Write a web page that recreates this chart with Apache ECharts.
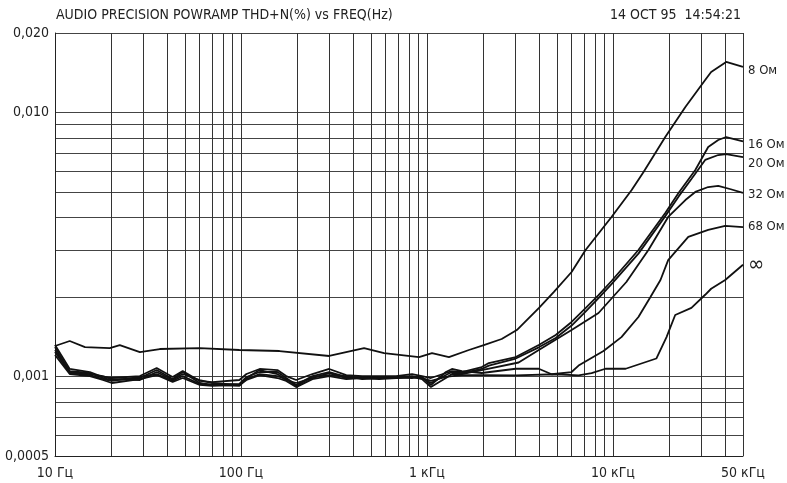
<!DOCTYPE html>
<html><head><meta charset="utf-8">
<script src="https://cdn.jsdelivr.net/npm/echarts/dist/echarts.min.js"></script>
<style>html,body{margin:0;padding:0;background:#fff}#c{width:787px;height:483px}</style>
</head><body><div id="c"></div>
<script>
const FONT = "'Liberation Sans Narrow','DejaVu Sans Condensed','Roboto Condensed',sans-serif";

const titleText = 'AUDIO PRECISION POWRAMP THD+N(%) vs FREQ(Hz)';
const dateText = '14 OCT 95  14:54:21';

const xTickValues = [10,20,30,40,50,60,70,80,90,100,200,300,400,500,600,700,800,900,1000,2000,3000,4000,5000,6000,7000,8000,9000,10000,20000,30000,40000,50000];
const xLabelValues = [10,100,1000,10000,50000];
const xLabelTexts = ['10 Гц','100 Гц','1 кГц','10 кГц','50 кГц'];

const yTickValues = [0.0005,0.0006,0.0007,0.0008,0.0009,0.001,0.002,0.003,0.004,0.005,0.006,0.007,0.008,0.009,0.01,0.02];
const yLabelValues = [0.0005,0.001,0.01,0.02];
const yLabelTexts = ['0,0005','0,001','0,010','0,020'];

// shared low-frequency sweep points (Hz)
const freqLow = [10,12,15.4,18.1,20.2,28.6,35.2,42.9,48.6,60,70,98,107,126,157,175,198,242,298,368,448,553,682,831,940,1050,1264,1362,1540,1970];

const ohm8Freq = [10,12,14.5,19.7,22.3,28.6,36.6,60,98,161,298,459,588,906,1064,1312,1680,2020,2520,3040,3990,4800,5990,7120,9820,12600,14600,19100,24500,31300,33700,40600,50000];
const ohm8 = [0.001305,0.001363,0.001293,0.001282,0.001316,0.001238,0.001271,0.001282,0.001260,0.001249,0.001196,0.001282,0.001227,0.001185,0.001227,0.001185,0.001260,0.001316,0.001387,0.001500,0.001817,0.002089,0.002488,0.003015,0.004021,0.005087,0.005952,0.008074,0.01049,0.01328,0.01424,0.01554,0.01487];

const ohm16Freq = freqLow.concat([2150,3000,3990,4920,5990,7120,8360,9820,13700,19100,22500,27700,32500,36800,40600,50000]);
const ohm16 = [0.001316,0.001068,0.001040,0.000996,0.000987,0.001004,0.001077,0.000996,0.001049,0.000962,0.000953,0.000970,0.001022,0.001068,0.001058,0.001004,0.000970,0.001022,0.001068,0.001013,0.001004,0.001004,0.001004,0.001022,0.001004,0.000987,0.001031,0.001049,0.001040,0.001086,
  0.001125,0.001185,0.001316,0.001436,0.001609,0.001817,0.002035,0.002300,0.003015,0.004163,0.004956,0.006056,0.007400,0.007866,0.008074,0.007766];

const ohm20Freq = freqLow.concat([2150,3000,3990,4920,5990,7120,8360,9820,13700,19100,22500,26400,31300,36800,40600,50000]);
const ohm20 = [0.001260,0.001049,0.001031,0.000987,0.000970,0.000987,0.001058,0.000978,0.001040,0.000945,0.000929,0.000937,0.000996,0.001040,0.001040,0.000987,0.000929,0.001004,0.001040,0.000996,0.000987,0.000996,0.000996,0.001004,0.000987,0.000945,0.001013,0.001040,0.001031,0.001068,
  0.001100,0.001170,0.001290,0.001400,0.001560,0.001760,0.001980,0.002240,0.002920,0.004050,0.004800,0.005600,0.006610,0.006900,0.006960,0.006780];

const ohm32Freq = freqLow.concat([3110,3990,5990,8360,11800,15500,19800,24500,27700,32500,36800,43000,50000]);
const ohm32 = [0.001293,0.001040,0.001022,0.001004,0.000978,0.000970,0.001040,0.000970,0.001022,0.000970,0.000945,0.000929,0.000987,0.001058,0.001022,0.000970,0.000945,0.000987,0.001031,0.000987,0.000996,0.000987,0.000987,0.000996,0.000978,0.000912,0.000987,0.001022,0.001022,0.001058,
  0.001130,0.001260,0.001500,0.001740,0.002280,0.003015,0.004020,0.004660,0.005000,0.005220,0.005270,0.005120,0.004960];

const ohm68Freq = freqLow.concat([3000,3990,4680,5990,6530,8890,11100,13700,15900,18000,19800,25400,32500,40100,50000]);
const ohm68 = [0.001238,0.001031,0.001013,0.000978,0.000962,0.000996,0.001022,0.000962,0.001004,0.000937,0.000929,0.000921,0.000978,0.001022,0.001004,0.000978,0.000921,0.000996,0.001013,0.001004,0.000978,0.000987,0.000996,0.000987,0.000996,0.000929,0.001040,0.001068,0.001049,0.001031,
  0.001070,0.001070,0.001020,0.001040,0.001100,0.001250,0.001410,0.001680,0.002000,0.002320,0.002760,0.003380,0.003590,0.003720,0.003680];

const ohmInfFreq = freqLow.concat([3000,4920,6530,7670,9110,11700,17100,19400,21600,26400,31300,33700,40100,50000]);
const ohmInf = [0.001206,0.001022,0.001004,0.000970,0.000945,0.000978,0.001013,0.000953,0.000987,0.000929,0.000921,0.000929,0.000970,0.001013,0.000987,0.000962,0.000912,0.000978,0.001004,0.000978,0.000987,0.000978,0.000987,0.000996,0.000987,0.000962,0.000996,0.001004,0.001013,0.001013,
  0.001010,0.001020,0.001010,0.001030,0.001070,0.001070,0.001170,0.001410,0.001710,0.001820,0.002040,0.002150,0.002320,0.002650];

const seriesDefs = [
  {name:'8 Ом', f:ohm8Freq, v:ohm8, dy:4, size:13},
  {name:'16 Ом', f:ohm16Freq, v:ohm16, dy:3, size:13},
  {name:'20 Ом', f:ohm20Freq, v:ohm20, dy:7, size:13},
  {name:'32 Ом', f:ohm32Freq, v:ohm32, dy:2, size:13},
  {name:'68 Ом', f:ohm68Freq, v:ohm68, dy:0, size:13},
  {name:'∞', f:ohmInfFreq, v:ohmInf, dy:1, size:22}
];

const chart = echarts.init(document.getElementById('c'), null, {renderer:'canvas'});
const lbl = (vals, texts) => v => {
  for (let i = 0; i < vals.length; i++) if (Math.abs(vals[i] - v) / vals[i] < 1e-6) return texts[i];
  return '';
};
chart.setOption({
  animation:false,
  backgroundColor:'#fff',
  title:[
    {text:titleText, left:51, top:3, textStyle:{fontFamily:FONT, fontSize:14, fontWeight:'normal', color:'#222'}},
    {text:dateText, right:41, top:3, textStyle:{fontFamily:FONT, fontSize:14, fontWeight:'normal', color:'#222'}}
  ],
  grid:{left:55, right:44, top:33, bottom:27, containLabel:false},
  xAxis:{type:'log', min:10, max:50000, logBase:10,
    axisLine:{show:true, lineStyle:{color:'#222', width:1}},
    axisTick:{show:false, customValues:xTickValues},
    splitLine:{show:true, lineStyle:{color:'#333', width:1}},
    minorSplitLine:{show:false},
    axisLabel:{customValues:xLabelValues, formatter:lbl(xLabelValues, xLabelTexts), fontFamily:FONT, fontSize:14, color:'#222', margin:10}
  },
  yAxis:{type:'log', min:0.0005, max:0.02, logBase:10,
    axisLine:{show:true, lineStyle:{color:'#222', width:1}},
    axisTick:{show:false, customValues:yTickValues},
    splitLine:{show:true, lineStyle:{color:'#444', width:1}},
    axisLabel:{customValues:yLabelValues, formatter:lbl(yLabelValues, yLabelTexts), fontFamily:FONT, fontSize:14, color:'#222', margin:6}
  },
  series: seriesDefs.map(s => ({
    type:'line', name:s.name, showSymbol:false, symbol:'none',
    data: s.f.map((f,i) => [f, s.v[i]]),
    lineStyle:{color:'#111', width:1.8},
    z:5,
    endLabel:{show:true, formatter:s.name, fontFamily:FONT, fontSize:s.size, color:'#222', distance:5, offset:[0, s.dy]}
  }))
});
</script></body></html>
